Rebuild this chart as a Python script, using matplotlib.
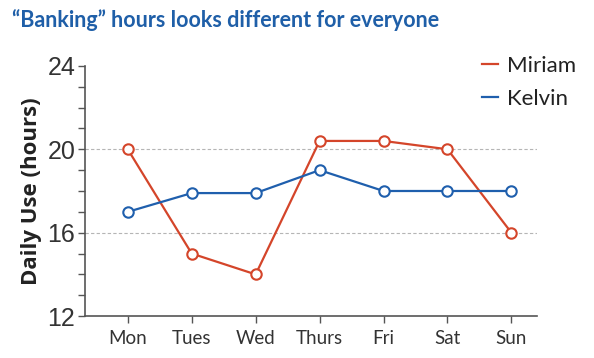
import matplotlib
matplotlib.use('Agg')
import matplotlib.pyplot as plt
from matplotlib.lines import Line2D
from matplotlib.ticker import MultipleLocator

# Данные
days = ['Mon', 'Tues', 'Wed', 'Thurs', 'Fri', 'Sat', 'Sun']
miriam = [20, 15, 14, 20.4, 20.4, 20, 16]
kelvin = [17, 17.9, 17.9, 19, 18, 18, 18]

red = '#d4452a'
blue = '#1f5fad'
axis_col = '#555555'

plt.rcParams['font.family'] = ['Lato', 'DejaVu Sans']

fig = plt.figure(figsize=(5.94, 3.58), dpi=100)
ax = fig.add_axes([0.143, 0.117, 0.761, 0.699])

x = list(range(len(days)))
ax.plot(x, miriam, color=red, lw=1.6, marker='o', ms=7.5, mfc='white',
        mec=red, mew=1.5, zorder=3)
ax.plot(x, kelvin, color=blue, lw=1.6, marker='o', ms=7.5, mfc='white',
        mec=blue, mew=1.5, zorder=3)

# Оси
ax.set_ylim(12, 24)
ax.set_xlim(-0.67, 6.4)
ax.yaxis.set_major_locator(MultipleLocator(4))
ax.yaxis.set_minor_locator(MultipleLocator(1))
ax.set_xticks(x)
ax.set_xticklabels(days)

for v in [16, 20]:
    ax.axhline(v, color='#b5b5b5', lw=0.8, ls=(0, (3, 2)), zorder=1)

for s in ['top', 'right']:
    ax.spines[s].set_visible(False)
for s in ['left', 'bottom']:
    ax.spines[s].set_color(axis_col)
    ax.spines[s].set_linewidth(1.2)

ax.tick_params(axis='y', which='both', length=5, width=1, color=axis_col,
               labelsize=18, labelcolor='#333333', pad=2)
ax.tick_params(axis='x', length=5, width=1, color=axis_col,
               labelsize=13.5, labelcolor='#333333', pad=5)
for lab in ax.get_yticklabels():
    lab.set_family(['Liberation Sans', 'DejaVu Sans'])

ax.set_ylabel('Daily Use (hours)', fontsize=16, fontweight='bold',
              color='#222222', labelpad=4, family=['Open Sans', 'DejaVu Sans'])

# Легенда
handles = [Line2D([], [], color=red, lw=1.6), Line2D([], [], color=blue, lw=1.6)]
leg = ax.legend(handles, ['Miriam', 'Kelvin'], loc='upper right',
                bbox_to_anchor=(1.13, 1.12), frameon=False,
                fontsize=16, handlelength=0.7, handletextpad=0.4,
                labelspacing=0.6)
for t in leg.get_texts():
    t.set_color('#222222')

fig.text(0.02, 0.945, '\u201cBanking\u201d hours looks different for everyone',
         fontsize=15.5, fontweight='bold', color='#1f5fa8', va='center')

plt.savefig('out.png', dpi=100)
